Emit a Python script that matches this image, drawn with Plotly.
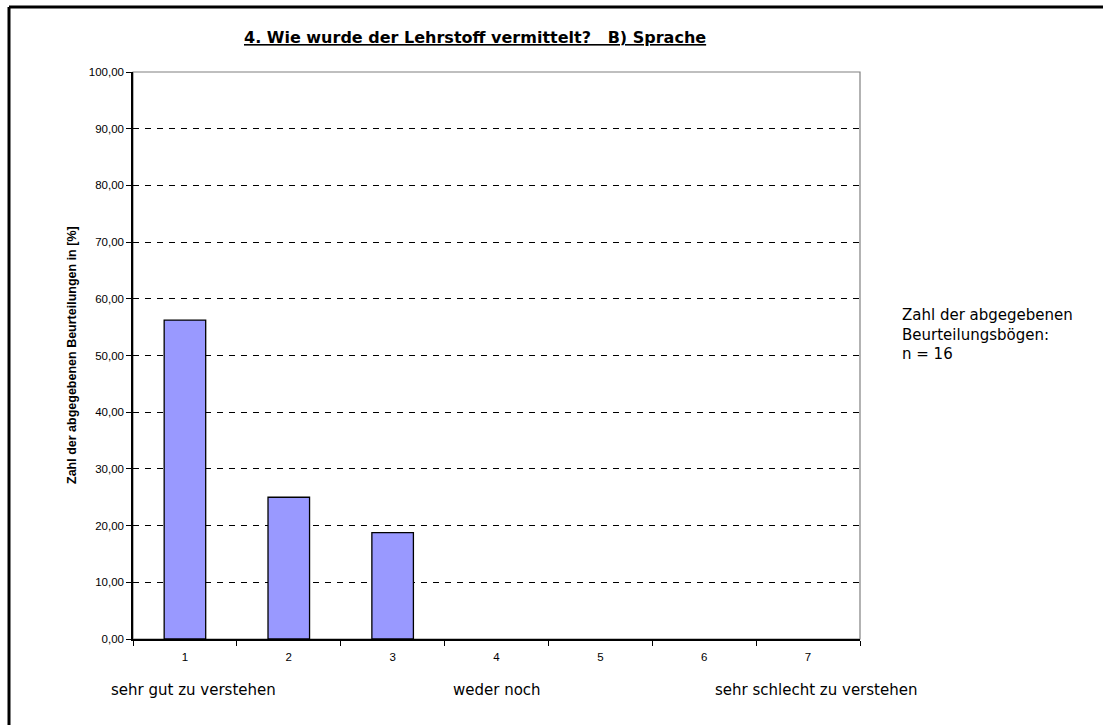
import plotly.graph_objects as go

categories = ["1", "2", "3", "4", "5", "6", "7"]
values = [56.25, 25.00, 18.75, 0, 0, 0, 0]
scale_labels = ["sehr gut zu verstehen", "weder noch", "sehr schlecht zu verstehen"]
title = "4. Wie wurde der Lehrstoff vermittelt?&nbsp;&nbsp; B) Sprache"
y_title = "Zahl der abgegebenen Beurteilungen in [%]"
n_text = "Zahl der abgegebenen<br>Beurteilungsbögen:<br>n = 16"

W, H = 1103, 725
L, R, T, B = 133, 860, 72, 639


def px(x):
    return (x - L) / (R - L)


def py(y):
    return (B - y) / (B - T)


FONT = "Liberation Sans, Arial, sans-serif"
WIDE = "DejaVu Sans, sans-serif"

fig = go.Figure()
fig.add_trace(go.Bar(
    x=categories, y=values,
    marker=dict(color="#9999FF",
                line=dict(color="black", width=[1.3 if v > 0 else 0 for v in values])),
    width=0.4,
))

shapes = [
    dict(type="rect", xref="paper", yref="paper", x0=0, x1=1, y0=0, y1=1,
         line=dict(color="#808080", width=1.2), layer="below"),
    dict(type="line", xref="paper", yref="paper", x0=px(9), x1=px(9), y0=py(7), y1=py(740),
         line=dict(color="black", width=3)),
    dict(type="line", xref="paper", yref="paper", x0=px(9), x1=px(1120), y0=py(7), y1=py(7),
         line=dict(color="black", width=3)),
]

annotations = [
    dict(text="<b><u>" + title + "</u></b>", x=px(475), y=py(38), xref="paper", yref="paper",
         showarrow=False, font=dict(family=WIDE, size=16, color="black"), xanchor="center", yanchor="middle"),
    dict(text="<b>" + y_title + "</b>", x=px(72), y=py(355), xref="paper", yref="paper",
         showarrow=False, textangle=-90, font=dict(family=FONT, size=12.5, color="black"),
         xanchor="center", yanchor="middle"),
    dict(text=scale_labels[0], x=px(109), y=py(690), xref="paper", yref="paper", showarrow=False,
         font=dict(family=WIDE, size=15, color="black"), xanchor="left", yanchor="middle"),
    dict(text=scale_labels[1], x=px(497), y=py(690), xref="paper", yref="paper", showarrow=False,
         font=dict(family=WIDE, size=15, color="black"), xanchor="center", yanchor="middle"),
    dict(text=scale_labels[2], x=px(713), y=py(690), xref="paper", yref="paper", showarrow=False,
         font=dict(family=WIDE, size=15, color="black"), xanchor="left", yanchor="middle"),
    dict(text=n_text, x=px(900), y=py(334), xref="paper", yref="paper", showarrow=False,
         align="left", font=dict(family=WIDE, size=15, color="black"), xanchor="left", yanchor="middle"),
]

fig.update_layout(
    width=W, height=H,
    margin=dict(l=L, r=W - R, t=T, b=H - B, autoexpand=False),
    paper_bgcolor="white", plot_bgcolor="white",
    showlegend=False,
    separators=",.",
    font=dict(family=FONT, size=11.5, color="black"),
    shapes=shapes, annotations=annotations,
)
fig.update_xaxes(
    type="category", showline=True, linecolor="black", linewidth=1.5,
    ticks="outside", tickson="boundaries", ticklen=5, tickcolor="black",
    showgrid=False, tickfont=dict(size=11.5), ticklabelstandoff=6,
)
fig.update_yaxes(
    range=[0, 100], dtick=10, tickformat=".2f",
    showline=True, linecolor="black", linewidth=1.5,
    ticks="outside", ticklen=5, tickcolor="black",
    showgrid=True, gridcolor="black", gridwidth=1, griddash="6px,6px",
    zeroline=False, tickfont=dict(size=11.5),
)

fig.write_html(
    "out.html",
    config={"displayModeBar": False},
    post_script="document.body.style.margin='0';document.body.style.overflow='hidden';",
)
